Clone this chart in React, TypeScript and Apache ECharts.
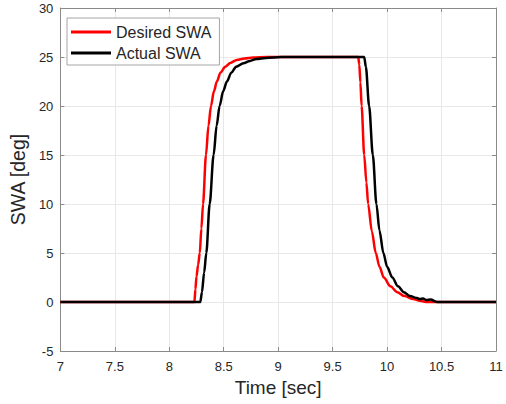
import React, { useEffect, useRef } from "react";
import * as echarts from "echarts";

const desiredT = [7, 8.231, 8.24, 8.25, 8.265, 8.28, 8.295, 8.31, 8.337, 8.36, 8.383, 8.41, 8.437, 8.47, 8.513, 8.56, 8.62, 8.69, 8.77, 8.9, 9.735, 9.745, 9.755, 9.766, 9.79, 9.81, 9.826, 9.86, 9.896, 9.93, 9.97, 10.03, 10.094, 10.16, 10.24, 10.3, 10.37, 11];
const desiredV = [0, 0, 1.3, 2.6, 3.8, 5, 7.5, 10, 15, 18, 20, 21.5, 22.5, 23.4, 24, 24.4, 24.7, 24.85, 24.95, 25, 25, 24.2, 22.4, 20, 15, 12.2, 10, 7.2, 5, 3.6, 2.5, 1.6, 1.0, 0.6, 0.3, 0.12, 0, 0];

const actualT = [7, 8.285, 8.3, 8.32, 8.34, 8.371, 8.407, 8.435, 8.462, 8.495, 8.529, 8.57, 8.614, 8.68, 8.741, 8.8, 8.89, 9.03, 9.79, 9.805, 9.835, 9.869, 9.902, 9.93, 9.966, 10.0, 10.048, 10.1, 10.154, 10.21, 10.276, 10.3, 10.33, 10.36, 10.4, 10.46, 11];
const actualV = [0, 0, 1, 3, 5, 10, 15, 18, 20, 21.5, 22.5, 23.4, 24, 24.35, 24.6, 24.8, 24.9, 25, 25, 24, 20, 15, 10, 7.3, 5, 3.6, 2.5, 1.6, 1.0, 0.6, 0.4, 0.3, 0.35, 0.2, 0.25, 0, 0];

const seriesNames = ["Desired SWA", "Actual SWA"];
const xTitle = "Time [sec]";
const yTitle = "SWA [deg]";

const FONT = "Liberation Sans, Arial, sans-serif";
const AXIS_COLOR = "#8a8a8a";
const GRID_COLOR = "#e8e8e8";
const LABEL_COLOR = "#262626";

export default function App() {
  const ref = useRef<HTMLDivElement>(null);
  useEffect(() => {
    if (!ref.current) return;
    const chart = echarts.init(ref.current, undefined, { renderer: "svg" });
    const desired = desiredT.map((t, i) => [t, desiredV[i]]);
    const actual = actualT.map((t, i) => [t, actualV[i]]);
    const tickStyle = { show: true, inside: true, length: 4, lineStyle: { color: AXIS_COLOR } };
    chart.setOption({
      animation: false,
      grid: { left: 57, right: 10, top: 8, bottom: 53, containLabel: false },
      legend: {
        orient: "vertical",
        left: 67,
        top: 18,
        icon: "rect",
        itemWidth: 40,
        itemHeight: 3,
        itemGap: 5,
        padding: [6, 8, 4, 4],
        borderColor: "#a6a6a6",
        borderWidth: 1,
        backgroundColor: "#ffffff",
        textStyle: { fontFamily: FONT, fontSize: 16, color: LABEL_COLOR },
        data: seriesNames,
      },
      xAxis: [
        {
          type: "value",
          min: 7,
          max: 11,
          interval: 0.5,
          name: xTitle,
          nameLocation: "middle",
          nameGap: 27,
          nameTextStyle: { fontFamily: FONT, fontSize: 19, color: LABEL_COLOR },
          axisLine: { show: true, onZero: false, lineStyle: { color: AXIS_COLOR } },
          axisTick: tickStyle,
          axisLabel: { fontFamily: FONT, fontSize: 13, color: LABEL_COLOR, margin: 9 },
          splitLine: { show: true, lineStyle: { color: GRID_COLOR, width: 1 } },
        },
        {
          type: "value",
          position: "top",
          min: 7,
          max: 11,
          interval: 0.5,
          axisLine: { show: true, onZero: false, lineStyle: { color: AXIS_COLOR } },
          axisTick: tickStyle,
          axisLabel: { show: false },
          splitLine: { show: false },
        },
      ],
      yAxis: [
        {
          type: "value",
          min: -5,
          max: 30,
          interval: 5,
          name: yTitle,
          nameLocation: "middle",
          nameGap: 24,
          nameRotate: 90,
          nameTextStyle: { fontFamily: FONT, fontSize: 19.5, color: LABEL_COLOR },
          axisLine: { show: true, onZero: false, lineStyle: { color: AXIS_COLOR } },
          axisTick: tickStyle,
          axisLabel: { fontFamily: FONT, fontSize: 13, color: LABEL_COLOR, margin: 7 },
          splitLine: { show: true, lineStyle: { color: GRID_COLOR, width: 1 } },
        },
        {
          type: "value",
          position: "right",
          min: -5,
          max: 30,
          interval: 5,
          axisLine: { show: true, onZero: false, lineStyle: { color: AXIS_COLOR } },
          axisTick: tickStyle,
          axisLabel: { show: false },
          splitLine: { show: false },
        },
      ],
      series: [
        {
          name: seriesNames[0],
          type: "line",
          data: desired,
          showSymbol: false,
          symbol: "none",
          smooth: 0.3,
          smoothMonotone: "x",
          color: "#ff0000",
          lineStyle: { color: "#ff0000", width: 2.5 },
        },
        {
          name: seriesNames[1],
          type: "line",
          data: actual,
          showSymbol: false,
          symbol: "none",
          smooth: 0.3,
          smoothMonotone: "x",
          color: "#000000",
          lineStyle: { color: "#000000", width: 2.5 },
        },
      ],
    });
    return () => chart.dispose();
  }, []);
  return <div ref={ref} style={{ width: 506, height: 404, position: "absolute", left: 0, top: 0 }} />;
}
